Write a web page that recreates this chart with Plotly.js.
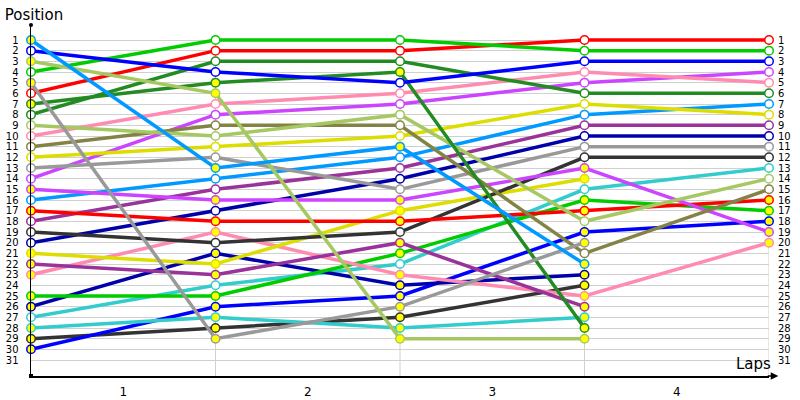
<!DOCTYPE html>
<html>
<head>
<meta charset="utf-8">
<script src="https://cdn.plot.ly/plotly-3.0.1.min.js"></script>
<style>html,body{margin:0;padding:0;background:#fff;}#chart{width:800px;height:400px;}</style>
</head>
<body>
<div id="chart"></div>
<script>
// ---- data ----
const laps = [0, 1, 2, 3, 4];
const lapTickLabels = ['1', '2', '3', '4'];
const lapTickPositions = [0.5, 1.5, 2.5, 3.5];
const positionTicks = [1,2,3,4,5,6,7,8,9,10,11,12,13,14,15,16,17,18,19,20,21,22,23,24,25,26,27,28,29,30,31];

// positions per lap (lap 0..4) for each driver
const lightblueY   = [1, 13, 11, 22];
const blueW        = [2, 4, 5, 3, 3];
const yellowgreenY = [3, 6, 29, 29];
const greenW       = [4, 1, 1, 2, 2];
const grayY        = [5, 29, 26, 20];
const redW         = [6, 2, 2, 1, 1];
const darkgreenY   = [7, 5, 4, 28];
const darkgreenW   = [8, 3, 3, 6, 6];
const yellowgreenW = [9, 10, 8, 18, 14];
const pinkW        = [10, 7, 6, 4, 5];
const oliveW       = [11, 9, 9, 21, 15];
const yellowW      = [12, 11, 10, 7, 8];
const grayW        = [13, 12, 15, 11, 11];
const magentaW     = [14, 8, 7, 5, 4];
const magentaY     = [15, 16, 16, 13, 19];
const lightblueW   = [16, 14, 12, 8, 7];
const redY         = [17, 18, 18, 17, 16];
const purpleW      = [18, 15, 13, 9, 9];
const blackW       = [19, 20, 19, 12, 12];
const darkblueW    = [20, 17, 14, 10, 10];
const yellowY      = [21, 22, 17, 14];
const purpleY      = [22, 23, 20, 26];
const pinkY        = [23, 19, 23, 25, 20];
const greenY       = [25, 25, 21, 16, 17];
const darkblueY    = [26, 21, 24, 23];
const cyanW        = [27, 24, 22, 15, 13];
const cyanY        = [28, 27, 28, 27];
const blackY       = [29, 28, 27, 24];
const blueY        = [30, 26, 25, 19, 18];

// ---- styles ----
const C = {
  lightblue: '#0099ff', blue: '#0000ff', yellowgreen: '#a6c862', green: '#00cc00',
  gray: '#999999', red: '#ff0000', darkgreen: '#228b22', pink: '#ff8cb0',
  olive: '#838345', yellow: '#dddd00', magenta: '#cc44ff', purple: '#993399',
  black: '#333333', darkblue: '#0000aa', cyan: '#33cccc'
};
const FILL_W = '#ffffff', FILL_Y = '#ffff00';

const drivers = [
  [blackY, C.black, FILL_Y], [blueY, C.blue, FILL_Y], [cyanY, C.cyan, FILL_Y],
  [cyanW, C.cyan, FILL_W], [darkblueY, C.darkblue, FILL_Y], [greenY, C.green, FILL_Y],
  [pinkY, C.pink, FILL_Y], [purpleY, C.purple, FILL_Y], [yellowY, C.yellow, FILL_Y],
  [darkblueW, C.darkblue, FILL_W], [blackW, C.black, FILL_W], [purpleW, C.purple, FILL_W],
  [redY, C.red, FILL_Y], [lightblueW, C.lightblue, FILL_W], [magentaY, C.magenta, FILL_Y],
  [magentaW, C.magenta, FILL_W], [grayW, C.gray, FILL_W], [yellowW, C.yellow, FILL_W],
  [oliveW, C.olive, FILL_W], [pinkW, C.pink, FILL_W], [yellowgreenW, C.yellowgreen, FILL_W],
  [darkgreenW, C.darkgreen, FILL_W], [darkgreenY, C.darkgreen, FILL_Y], [redW, C.red, FILL_W],
  [grayY, C.gray, FILL_Y], [greenW, C.green, FILL_W], [yellowgreenY, C.yellowgreen, FILL_Y],
  [blueW, C.blue, FILL_W], [lightblueY, C.lightblue, FILL_Y]
];

const traces = drivers.map(([pos, color, fill]) => ({
  type: 'scatter',
  mode: 'lines+markers',
  x: laps.slice(0, pos.length),
  y: pos,
  cliponaxis: false,
  hoverinfo: 'skip',
  showlegend: false,
  line: { color: color, width: 3.5 },
  marker: { symbol: 'circle', size: 8.5, color: fill, line: { color: color, width: 1.5 } }
}));

const FONT = 'DejaVu Sans, Verdana, sans-serif';
const yRange = [32.5, -0.406];

const gridShapes = laps.slice(1).map(l => ({
  type: 'line', xref: 'x', yref: 'y', x0: l, x1: l, y0: positionTicks[0], y1: yRange[0],
  line: { color: '#d0d0d0', width: 1 }, layer: 'below'
}));

const layout = {
  width: 800, height: 400,
  margin: { l: 31, r: 31, t: 25, b: 24, pad: 0 },
  paper_bgcolor: '#ffffff', plot_bgcolor: '#ffffff',
  font: { family: FONT, color: '#000000', size: 10 },
  title: { text: 'Position', xref: 'container', yref: 'container', x: 0.006, xanchor: 'left',
           y: 0.962, yanchor: 'middle', font: { family: FONT, size: 15, color: '#000000' } },
  xaxis: {
    range: [0, 4], showgrid: false, zeroline: false,
    showline: true, linecolor: '#000000', linewidth: 1.5,
    tickmode: 'array', tickvals: lapTickPositions, ticktext: lapTickLabels,
    ticks: 'outside', ticklen: 4, tickcolor: 'rgba(0,0,0,0)',
    tickfont: { family: FONT, size: 12, color: '#000000' }, fixedrange: true
  },
  yaxis: {
    range: yRange, showgrid: true, gridcolor: '#d0d0d0', gridwidth: 1, zeroline: false,
    showline: true, linecolor: '#000000', linewidth: 1.5,
    tickmode: 'array', tickvals: positionTicks, ticktext: positionTicks.map(String),
    ticks: 'outside', ticklen: 9, tickcolor: 'rgba(0,0,0,0)',
    tickfont: { family: FONT, size: 10, color: '#000000' }, fixedrange: true
  },
  yaxis2: {
    overlaying: 'y', side: 'right', anchor: 'x',
    range: yRange, showgrid: false, zeroline: false, showline: false,
    tickmode: 'array', tickvals: positionTicks, ticktext: positionTicks.map(String),
    ticks: 'outside', ticklen: 6, tickcolor: 'rgba(0,0,0,0)',
    tickfont: { family: FONT, size: 10, color: '#000000' }, fixedrange: true
  },
  shapes: gridShapes.concat([
    { type: 'circle', xref: 'paper', yref: 'paper', xsizemode: 'pixel', ysizemode: 'pixel',
      xanchor: 0, yanchor: 1, x0: -2, x1: 2, y0: -2, y1: 2,
      fillcolor: '#000000', line: { width: 0 } },
    { type: 'rect', xref: 'paper', yref: 'paper', xsizemode: 'pixel', ysizemode: 'pixel',
      xanchor: 0, yanchor: 0, x0: -2, x1: 2, y0: -2, y1: 2,
      fillcolor: '#000000', line: { width: 0 } }
  ]),
  annotations: [
    { text: 'Laps', xref: 'paper', yref: 'paper', x: 1.0054, y: 0.034, xanchor: 'right', yanchor: 'middle',
      showarrow: false, font: { family: FONT, size: 15, color: '#000000' } },
    { text: '', xref: 'paper', yref: 'paper', x: 1.0125, y: 0, showarrow: true,
      ax: -12, ay: 0, arrowhead: 2, arrowsize: 1, arrowwidth: 1.5, arrowcolor: '#000000' }
  ]
};

// empty trace to make the right axis render
traces.push({ type: 'scatter', x: [], y: [], yaxis: 'y2', showlegend: false, hoverinfo: 'skip' });

Plotly.newPlot('chart', traces, layout, { staticPlot: true, displayModeBar: false });
</script>
</body>
</html>
